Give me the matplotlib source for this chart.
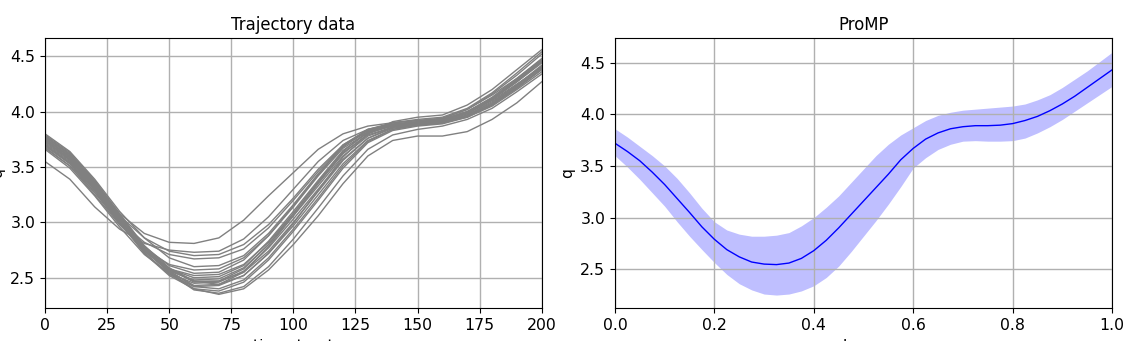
import numpy as np
import matplotlib
matplotlib.use("Agg")
import matplotlib.pyplot as plt

# demonstrations, sampled every 10 timesteps
timesteps = [0, 10, 20, 30, 40, 50, 60, 70, 80, 90, 100,
             110, 120, 130, 140, 150, 160, 170, 180, 190, 200]

trajectories = [
    [3.78, 3.61, 3.35, 3.08, 2.90, 2.82, 2.81, 2.86, 3.02, 3.24, 3.45, 3.66, 3.80, 3.87, 3.90, 3.92, 3.94, 4.02, 4.15, 4.30, 4.48],
    [3.55, 3.39, 3.14, 2.94, 2.81, 2.75, 2.73, 2.74, 2.85, 3.05, 3.30, 3.55, 3.74, 3.84, 3.88, 3.90, 3.93, 4.00, 4.12, 4.28, 4.45],
    [3.75, 3.59, 3.35, 3.06, 2.86, 2.74, 2.70, 2.71, 2.80, 2.98, 3.22, 3.48, 3.70, 3.83, 3.88, 3.90, 3.92, 3.99, 4.11, 4.27, 4.44],
    [3.70, 3.53, 3.27, 3.01, 2.82, 2.71, 2.67, 2.68, 2.76, 2.95, 3.20, 3.46, 3.69, 3.82, 3.87, 3.89, 3.91, 3.98, 4.10, 4.25, 4.40],
    [3.80, 3.64, 3.39, 3.10, 2.86, 2.68, 2.60, 2.61, 2.70, 2.90, 3.16, 3.44, 3.68, 3.84, 3.90, 3.92, 3.94, 4.02, 4.16, 4.33, 4.52],
    [3.68, 3.51, 3.25, 2.98, 2.76, 2.62, 2.57, 2.58, 2.68, 2.88, 3.14, 3.42, 3.67, 3.81, 3.87, 3.88, 3.90, 3.97, 4.09, 4.24, 4.41],
    [3.76, 3.59, 3.33, 3.04, 2.78, 2.61, 2.54, 2.55, 2.66, 2.88, 3.15, 3.43, 3.70, 3.84, 3.89, 3.91, 3.93, 4.00, 4.13, 4.30, 4.47],
    [3.72, 3.56, 3.31, 3.02, 2.75, 2.58, 2.52, 2.53, 2.62, 2.82, 3.08, 3.36, 3.63, 3.79, 3.86, 3.88, 3.90, 3.96, 4.07, 4.22, 4.38],
    [3.74, 3.57, 3.32, 3.03, 2.76, 2.58, 2.50, 2.51, 2.61, 2.83, 3.10, 3.38, 3.65, 3.81, 3.88, 3.90, 3.92, 3.99, 4.11, 4.28, 4.46],
    [3.70, 3.54, 3.29, 3.00, 2.74, 2.56, 2.48, 2.49, 2.59, 2.80, 3.06, 3.33, 3.60, 3.78, 3.86, 3.89, 3.91, 3.97, 4.08, 4.24, 4.42],
    [3.78, 3.62, 3.37, 3.07, 2.78, 2.58, 2.46, 2.47, 2.58, 2.80, 3.08, 3.37, 3.64, 3.82, 3.90, 3.93, 3.95, 4.03, 4.17, 4.35, 4.54],
    [3.66, 3.49, 3.24, 2.96, 2.71, 2.54, 2.45, 2.46, 2.56, 2.77, 3.03, 3.30, 3.57, 3.76, 3.85, 3.88, 3.90, 3.96, 4.06, 4.21, 4.38],
    [3.73, 3.57, 3.33, 3.04, 2.76, 2.56, 2.43, 2.44, 2.55, 2.78, 3.06, 3.35, 3.62, 3.80, 3.88, 3.91, 3.93, 4.00, 4.12, 4.29, 4.47],
    [3.71, 3.55, 3.30, 3.01, 2.73, 2.53, 2.42, 2.43, 2.52, 2.72, 2.97, 3.25, 3.53, 3.74, 3.84, 3.88, 3.90, 3.96, 4.07, 4.23, 4.40],
    [3.77, 3.61, 3.36, 3.06, 2.77, 2.56, 2.42, 2.40, 2.48, 2.68, 2.94, 3.22, 3.51, 3.73, 3.84, 3.88, 3.90, 3.95, 4.05, 4.20, 4.36],
    [3.69, 3.53, 3.29, 3.00, 2.72, 2.52, 2.40, 2.38, 2.46, 2.66, 2.92, 3.20, 3.49, 3.72, 3.83, 3.87, 3.89, 3.95, 4.06, 4.22, 4.39],
    [3.74, 3.58, 3.34, 3.05, 2.76, 2.54, 2.39, 2.36, 2.42, 2.60, 2.85, 3.13, 3.42, 3.66, 3.79, 3.84, 3.87, 3.93, 4.03, 4.18, 4.34],
    [3.76, 3.60, 3.35, 3.06, 2.77, 2.55, 2.40, 2.35, 2.40, 2.57, 2.80, 3.06, 3.35, 3.60, 3.74, 3.78, 3.78, 3.82, 3.93, 4.08, 4.27],
    [3.67, 3.51, 3.27, 2.99, 2.74, 2.57, 2.47, 2.47, 2.55, 2.74, 3.00, 3.28, 3.56, 3.76, 3.86, 3.90, 3.92, 3.99, 4.11, 4.27, 4.45],
    [3.79, 3.63, 3.38, 3.08, 2.79, 2.59, 2.47, 2.44, 2.52, 2.72, 2.99, 3.29, 3.59, 3.80, 3.91, 3.95, 3.97, 4.06, 4.20, 4.38, 4.56],
]

# ProMP mean and +/- std band over phase
phase = [0.000, 0.025, 0.050, 0.075, 0.100, 0.125, 0.150, 0.175, 0.200, 0.225,
         0.250, 0.275, 0.300, 0.325, 0.350, 0.375, 0.400, 0.425, 0.450, 0.475,
         0.500, 0.525, 0.550, 0.575, 0.600, 0.625, 0.650, 0.675, 0.700, 0.725,
         0.750, 0.775, 0.800, 0.825, 0.850, 0.875, 0.900, 0.925, 0.950, 0.975, 1.000]
mean = [3.72, 3.64, 3.55, 3.44, 3.32, 3.185, 3.05, 2.91, 2.79, 2.69,
        2.62, 2.57, 2.55, 2.545, 2.56, 2.605, 2.68, 2.78, 2.90, 3.03,
        3.16, 3.29, 3.42, 3.56, 3.67, 3.76, 3.82, 3.86, 3.88, 3.89,
        3.89, 3.895, 3.91, 3.94, 3.98, 4.035, 4.10, 4.175, 4.26, 4.345, 4.43]
upper = [3.86, 3.78, 3.69, 3.60, 3.50, 3.38, 3.24, 3.09, 2.96, 2.88,
         2.84, 2.82, 2.82, 2.83, 2.855, 2.92, 3.00, 3.10, 3.21, 3.34,
         3.47, 3.60, 3.71, 3.80, 3.87, 3.94, 3.99, 4.02, 4.04, 4.05,
         4.06, 4.07, 4.08, 4.10, 4.14, 4.19, 4.26, 4.34, 4.42, 4.51, 4.60]
lower = [3.60, 3.49, 3.37, 3.24, 3.11, 2.96, 2.82, 2.69, 2.565, 2.45,
         2.36, 2.30, 2.26, 2.25, 2.26, 2.29, 2.34, 2.42, 2.53, 2.67,
         2.82, 2.97, 3.13, 3.30, 3.48, 3.58, 3.66, 3.71, 3.74, 3.745,
         3.74, 3.74, 3.745, 3.77, 3.82, 3.88, 3.95, 4.03, 4.11, 4.19, 4.27]

plt.rcParams['font.size'] = 11.3

fig = plt.figure(figsize=(11.34, 3.41), dpi=100)
ax1 = fig.add_axes([0.0397, 0.0959, 0.438, 0.7918])
ax2 = fig.add_axes([0.5423, 0.0959, 0.4383, 0.7918])

# left: raw demonstrations
for traj in trajectories:
    ax1.plot(timesteps, traj, color='gray', linewidth=1.0)
ax1.set_title("Trajectory data", fontsize=11.9)
ax1.set_xlabel("timestep t")
ax1.set_ylabel("q")
ax1.set_xlim(0, 200)
ax1.set_ylim(2.224, 4.663)
ax1.set_xticks([0, 25, 50, 75, 100, 125, 150, 175, 200])
ax1.set_yticks([2.5, 3.0, 3.5, 4.0, 4.5])
ax1.grid(True, linewidth=1.0)

# right: learned ProMP
ax2.fill_between(phase, lower, upper, color='blue', alpha=0.25, linewidth=0)
ax2.plot(phase, mean, color='blue', linewidth=1.0)
ax2.set_title("ProMP", fontsize=11.9)
ax2.set_xlabel("phase z")
ax2.set_ylabel("q")
ax2.set_xlim(0, 1)
ax2.set_ylim(2.122, 4.736)
ax2.set_yticks([2.5, 3.0, 3.5, 4.0, 4.5])
ax2.grid(True, linewidth=1.0)

fig.savefig("out.png", dpi=100)
